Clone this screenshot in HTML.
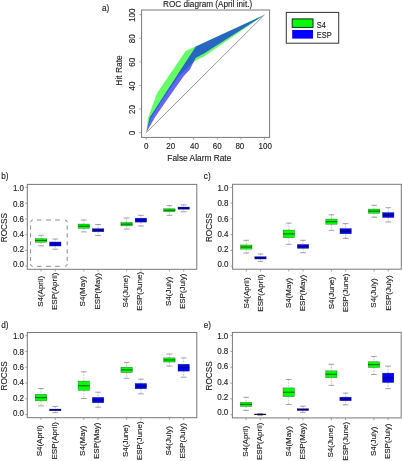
<!DOCTYPE html>
<html><head><meta charset="utf-8">
<style>
html,body{margin:0;padding:0;background:#fff;}
body{width:402px;height:461px;overflow:hidden;}
svg{display:block;filter:blur(0.3px);}
text{font-family:"Liberation Sans", sans-serif;fill:#1c1c1c;stroke:#1c1c1c;stroke-width:0.12px;}
</style></head>
<body>
<svg width="402" height="461" viewBox="0 0 402 461">
<rect width="402" height="461" fill="#fff"/>
<rect x="141.6" y="10.0" width="128.00" height="127.40" fill="none" stroke="#787878" stroke-width="1"/>
<polygon points="146.30,132.60 147.90,118.20 156.80,93.50 185.70,51.10 264.60,14.70 264.60,14.70 204.00,56.60 197.00,59.80 191.80,63.50 185.60,70.00 178.90,76.00 170.60,88.00 162.50,100.00 151.30,117.20 146.30,132.60" fill="#00ff00" fill-opacity="0.6"/>
<polygon points="146.30,132.60 149.80,117.20 195.80,46.60 264.60,14.70 264.60,14.70 204.00,53.50 195.50,58.00 190.00,69.50 183.80,76.00 175.30,88.00 166.20,101.00 155.00,117.20 146.30,132.60" fill="#0000ff" fill-opacity="0.6"/>
<line x1="146.30" y1="132.60" x2="264.60" y2="14.70" stroke="#9a9a9a" stroke-width="1.0"/>
<line x1="146.30" y1="137.4" x2="146.30" y2="139.6" stroke="#8a8a8a" stroke-width="0.8"/>
<text transform="translate(146.10,149.00) scale(1,1.2)" font-size="8.0" text-anchor="middle">0</text>
<line x1="139.4" y1="132.60" x2="141.6" y2="132.60" stroke="#8a8a8a" stroke-width="0.8"/>
<text transform="translate(135.00,133.10) rotate(-90) scale(1,1.1)" font-size="8.0" text-anchor="middle">0</text>
<line x1="169.96" y1="137.4" x2="169.96" y2="139.6" stroke="#8a8a8a" stroke-width="0.8"/>
<text transform="translate(170.76,149.00) scale(1,1.2)" font-size="8.0" text-anchor="middle">20</text>
<line x1="139.4" y1="109.02" x2="141.6" y2="109.02" stroke="#8a8a8a" stroke-width="0.8"/>
<text transform="translate(135.00,109.52) rotate(-90) scale(1,1.1)" font-size="8.0" text-anchor="middle">20</text>
<line x1="193.62" y1="137.4" x2="193.62" y2="139.6" stroke="#8a8a8a" stroke-width="0.8"/>
<text transform="translate(194.42,149.00) scale(1,1.2)" font-size="8.0" text-anchor="middle">40</text>
<line x1="139.4" y1="85.44" x2="141.6" y2="85.44" stroke="#8a8a8a" stroke-width="0.8"/>
<text transform="translate(135.00,85.94) rotate(-90) scale(1,1.1)" font-size="8.0" text-anchor="middle">40</text>
<line x1="217.28" y1="137.4" x2="217.28" y2="139.6" stroke="#8a8a8a" stroke-width="0.8"/>
<text transform="translate(217.28,149.00) scale(1,1.2)" font-size="8.0" text-anchor="middle">60</text>
<line x1="139.4" y1="61.86" x2="141.6" y2="61.86" stroke="#8a8a8a" stroke-width="0.8"/>
<text transform="translate(135.00,62.36) rotate(-90) scale(1,1.1)" font-size="8.0" text-anchor="middle">60</text>
<line x1="240.94" y1="137.4" x2="240.94" y2="139.6" stroke="#8a8a8a" stroke-width="0.8"/>
<text transform="translate(239.84,149.00) scale(1,1.2)" font-size="8.0" text-anchor="middle">80</text>
<line x1="139.4" y1="38.28" x2="141.6" y2="38.28" stroke="#8a8a8a" stroke-width="0.8"/>
<text transform="translate(135.00,38.78) rotate(-90) scale(1,1.1)" font-size="8.0" text-anchor="middle">80</text>
<line x1="264.60" y1="137.4" x2="264.60" y2="139.6" stroke="#8a8a8a" stroke-width="0.8"/>
<text transform="translate(265.20,149.00) scale(1,1.2)" font-size="8.0" text-anchor="middle">100</text>
<line x1="139.4" y1="14.70" x2="141.6" y2="14.70" stroke="#8a8a8a" stroke-width="0.8"/>
<text transform="translate(135.00,15.20) rotate(-90) scale(1,1.1)" font-size="8.0" text-anchor="middle">100</text>
<text transform="translate(199.30,160.60) scale(1,1.12)" font-size="8.35" text-anchor="middle">False Alarm Rate</text>
<text transform="translate(122.30,70.50) rotate(-90)" font-size="8.4" text-anchor="middle">Hit Rate</text>
<text transform="translate(207.60,7.30) scale(1,1.12)" font-size="8.2" text-anchor="middle">ROC diagram (April init.)</text>
<text transform="translate(102.00,10.50) scale(1,1.12)" font-size="8.2">a)</text>
<rect x="286.3" y="12.4" width="52.4" height="30.8" fill="none" stroke="#333" stroke-width="1"/>
<rect x="292.2" y="18.9" width="20.8" height="8.5" fill="#00ff00" stroke="#222" stroke-width="1"/>
<rect x="292.2" y="30.0" width="20.8" height="8.6" fill="#0000ff"/>
<text transform="translate(316.80,27.50) scale(1,1.12)" font-size="7.4">S4</text>
<text transform="translate(316.80,37.80) scale(1,1.12)" font-size="7.4">ESP</text>
<rect x="27.3" y="184.4" width="169.50" height="84.90" fill="none" stroke="#787878" stroke-width="1"/>
<line x1="25.30" y1="266.16" x2="27.3" y2="266.16" stroke="#8a8a8a" stroke-width="0.8"/>
<text transform="translate(24.00,267.46) scale(1,1.12)" font-size="8.0" text-anchor="end">0.0</text>
<line x1="25.30" y1="250.43" x2="27.3" y2="250.43" stroke="#8a8a8a" stroke-width="0.8"/>
<text transform="translate(24.00,252.23) scale(1,1.12)" font-size="8.0" text-anchor="end">0.2</text>
<line x1="25.30" y1="234.71" x2="27.3" y2="234.71" stroke="#8a8a8a" stroke-width="0.8"/>
<text transform="translate(24.00,237.01) scale(1,1.12)" font-size="8.0" text-anchor="end">0.4</text>
<line x1="25.30" y1="218.99" x2="27.3" y2="218.99" stroke="#8a8a8a" stroke-width="0.8"/>
<text transform="translate(24.00,221.79) scale(1,1.12)" font-size="8.0" text-anchor="end">0.6</text>
<line x1="25.30" y1="203.27" x2="27.3" y2="203.27" stroke="#8a8a8a" stroke-width="0.8"/>
<text transform="translate(24.00,206.57) scale(1,1.12)" font-size="8.0" text-anchor="end">0.8</text>
<line x1="25.30" y1="187.54" x2="27.3" y2="187.54" stroke="#8a8a8a" stroke-width="0.8"/>
<text transform="translate(24.00,191.34) scale(1,1.12)" font-size="8.0" text-anchor="end">1.0</text>
<text transform="translate(6.50,227.65) rotate(-90)" font-size="8.2" text-anchor="middle">ROCSS</text>
<text transform="translate(1.20,179.20) scale(1,1.12)" font-size="8.2">b)</text>
<line x1="41.01" y1="269.3" x2="41.01" y2="271.50" stroke="#8a8a8a" stroke-width="0.8"/>
<text transform="translate(42.61,291.30) rotate(-90)" font-size="8.0" text-anchor="middle">S4(April)</text>
<line x1="41.01" y1="235.30" x2="41.01" y2="238.50" stroke="#999" stroke-width="0.6" stroke-dasharray="1.5,1.2"/>
<line x1="41.01" y1="242.40" x2="41.01" y2="245.80" stroke="#999" stroke-width="0.6" stroke-dasharray="1.5,1.2"/>
<line x1="38.16" y1="235.30" x2="43.87" y2="235.30" stroke="#666" stroke-width="0.6"/>
<line x1="38.16" y1="245.80" x2="43.87" y2="245.80" stroke="#666" stroke-width="0.6"/>
<rect x="35.29" y="238.65" width="11.44" height="3.60" fill="#00ff00" stroke="#000" stroke-opacity="0.5" stroke-width="0.5"/>
<line x1="35.29" y1="240.45" x2="46.73" y2="240.45" stroke="#000" stroke-opacity="0.55" stroke-width="1.2"/>
<line x1="55.28" y1="269.3" x2="55.28" y2="271.50" stroke="#8a8a8a" stroke-width="0.8"/>
<text transform="translate(56.88,291.30) rotate(-90)" font-size="8.0" text-anchor="middle">ESP(April)</text>
<line x1="55.28" y1="239.00" x2="55.28" y2="241.80" stroke="#999" stroke-width="0.6" stroke-dasharray="1.5,1.2"/>
<line x1="55.28" y1="246.20" x2="55.28" y2="249.20" stroke="#999" stroke-width="0.6" stroke-dasharray="1.5,1.2"/>
<line x1="52.43" y1="239.00" x2="58.13" y2="239.00" stroke="#666" stroke-width="0.6"/>
<line x1="52.43" y1="249.20" x2="58.13" y2="249.20" stroke="#666" stroke-width="0.6"/>
<rect x="49.56" y="241.95" width="11.44" height="4.10" fill="#0000ff" stroke="#000" stroke-opacity="0.5" stroke-width="0.5"/>
<line x1="49.56" y1="244.00" x2="61.00" y2="244.00" stroke="#000" stroke-opacity="0.55" stroke-width="1.2"/>
<line x1="83.81" y1="269.3" x2="83.81" y2="271.50" stroke="#8a8a8a" stroke-width="0.8"/>
<text transform="translate(85.41,291.30) rotate(-90)" font-size="8.0" text-anchor="middle">S4(May)</text>
<line x1="83.81" y1="220.00" x2="83.81" y2="223.90" stroke="#999" stroke-width="0.6" stroke-dasharray="1.5,1.2"/>
<line x1="83.81" y1="228.50" x2="83.81" y2="231.90" stroke="#999" stroke-width="0.6" stroke-dasharray="1.5,1.2"/>
<line x1="80.96" y1="220.00" x2="86.67" y2="220.00" stroke="#666" stroke-width="0.6"/>
<line x1="80.96" y1="231.90" x2="86.67" y2="231.90" stroke="#666" stroke-width="0.6"/>
<rect x="78.09" y="224.05" width="11.44" height="4.30" fill="#00ff00" stroke="#000" stroke-opacity="0.5" stroke-width="0.5"/>
<line x1="78.09" y1="226.20" x2="89.54" y2="226.20" stroke="#000" stroke-opacity="0.55" stroke-width="1.2"/>
<line x1="98.08" y1="269.3" x2="98.08" y2="271.50" stroke="#8a8a8a" stroke-width="0.8"/>
<text transform="translate(99.68,291.30) rotate(-90)" font-size="8.0" text-anchor="middle">ESP(May)</text>
<line x1="98.08" y1="224.50" x2="98.08" y2="228.50" stroke="#999" stroke-width="0.6" stroke-dasharray="1.5,1.2"/>
<line x1="98.08" y1="231.90" x2="98.08" y2="235.50" stroke="#999" stroke-width="0.6" stroke-dasharray="1.5,1.2"/>
<line x1="95.23" y1="224.50" x2="100.94" y2="224.50" stroke="#666" stroke-width="0.6"/>
<line x1="95.23" y1="235.50" x2="100.94" y2="235.50" stroke="#666" stroke-width="0.6"/>
<rect x="92.36" y="228.65" width="11.44" height="3.10" fill="#0000ff" stroke="#000" stroke-opacity="0.5" stroke-width="0.5"/>
<line x1="92.36" y1="230.20" x2="103.80" y2="230.20" stroke="#000" stroke-opacity="0.55" stroke-width="1.2"/>
<line x1="126.62" y1="269.3" x2="126.62" y2="271.50" stroke="#8a8a8a" stroke-width="0.8"/>
<text transform="translate(128.22,291.30) rotate(-90)" font-size="8.0" text-anchor="middle">S4(June)</text>
<line x1="126.62" y1="218.00" x2="126.62" y2="222.30" stroke="#999" stroke-width="0.6" stroke-dasharray="1.5,1.2"/>
<line x1="126.62" y1="226.00" x2="126.62" y2="229.00" stroke="#999" stroke-width="0.6" stroke-dasharray="1.5,1.2"/>
<line x1="123.76" y1="218.00" x2="129.47" y2="218.00" stroke="#666" stroke-width="0.6"/>
<line x1="123.76" y1="229.00" x2="129.47" y2="229.00" stroke="#666" stroke-width="0.6"/>
<rect x="120.90" y="222.45" width="11.44" height="3.40" fill="#00ff00" stroke="#000" stroke-opacity="0.5" stroke-width="0.5"/>
<line x1="120.90" y1="224.15" x2="132.34" y2="224.15" stroke="#000" stroke-opacity="0.55" stroke-width="1.2"/>
<line x1="140.89" y1="269.3" x2="140.89" y2="271.50" stroke="#8a8a8a" stroke-width="0.8"/>
<text transform="translate(142.49,291.30) rotate(-90)" font-size="8.0" text-anchor="middle">ESP(June)</text>
<line x1="140.89" y1="215.30" x2="140.89" y2="218.00" stroke="#999" stroke-width="0.6" stroke-dasharray="1.5,1.2"/>
<line x1="140.89" y1="222.30" x2="140.89" y2="226.00" stroke="#999" stroke-width="0.6" stroke-dasharray="1.5,1.2"/>
<line x1="138.03" y1="215.30" x2="143.74" y2="215.30" stroke="#666" stroke-width="0.6"/>
<line x1="138.03" y1="226.00" x2="143.74" y2="226.00" stroke="#666" stroke-width="0.6"/>
<rect x="135.16" y="218.15" width="11.44" height="4.00" fill="#0000ff" stroke="#000" stroke-opacity="0.5" stroke-width="0.5"/>
<line x1="135.16" y1="220.15" x2="146.61" y2="220.15" stroke="#000" stroke-opacity="0.55" stroke-width="1.2"/>
<line x1="169.42" y1="269.3" x2="169.42" y2="271.50" stroke="#8a8a8a" stroke-width="0.8"/>
<text transform="translate(171.02,291.30) rotate(-90)" font-size="8.0" text-anchor="middle">S4(July)</text>
<line x1="169.42" y1="205.60" x2="169.42" y2="208.60" stroke="#999" stroke-width="0.6" stroke-dasharray="1.5,1.2"/>
<line x1="169.42" y1="211.80" x2="169.42" y2="215.30" stroke="#999" stroke-width="0.6" stroke-dasharray="1.5,1.2"/>
<line x1="166.57" y1="205.60" x2="172.27" y2="205.60" stroke="#666" stroke-width="0.6"/>
<line x1="166.57" y1="215.30" x2="172.27" y2="215.30" stroke="#666" stroke-width="0.6"/>
<rect x="163.70" y="208.75" width="11.44" height="2.90" fill="#00ff00" stroke="#000" stroke-opacity="0.5" stroke-width="0.5"/>
<line x1="163.70" y1="210.20" x2="175.14" y2="210.20" stroke="#000" stroke-opacity="0.55" stroke-width="1.2"/>
<line x1="183.69" y1="269.3" x2="183.69" y2="271.50" stroke="#8a8a8a" stroke-width="0.8"/>
<text transform="translate(185.29,291.30) rotate(-90)" font-size="8.0" text-anchor="middle">ESP(July)</text>
<line x1="183.69" y1="204.90" x2="183.69" y2="206.90" stroke="#999" stroke-width="0.6" stroke-dasharray="1.5,1.2"/>
<line x1="183.69" y1="209.40" x2="183.69" y2="211.80" stroke="#999" stroke-width="0.6" stroke-dasharray="1.5,1.2"/>
<line x1="180.83" y1="204.90" x2="186.54" y2="204.90" stroke="#666" stroke-width="0.6"/>
<line x1="180.83" y1="211.80" x2="186.54" y2="211.80" stroke="#666" stroke-width="0.6"/>
<rect x="177.97" y="207.05" width="11.44" height="2.20" fill="#0000ff" stroke="#000" stroke-opacity="0.5" stroke-width="0.5"/>
<line x1="177.97" y1="208.15" x2="189.41" y2="208.15" stroke="#000" stroke-opacity="0.55" stroke-width="1.2"/>
<path d="M36.9,220.0H41.4M36.9,266.3H41.4M46.0,220.0H51.0M46.0,266.3H51.0M55.2,220.0H59.8M55.2,266.3H59.8M30.6,225.5V229.7M67.2,225.5V229.7M30.6,233.3V237.5M67.2,233.3V237.5M30.6,241.3V245.3M67.2,241.3V245.3M30.6,249.3V253.5M67.2,249.3V253.5M30.6,256.8V261.0M67.2,256.8V261.0M30.6,222.2Q30.6,220.0 32.800000000000004,220.0M65.0,220.0Q67.2,220.0 67.2,222.2M30.6,264.1Q30.6,266.3 32.800000000000004,266.3M65.0,266.3Q67.2,266.3 67.2,264.1" fill="none" stroke="#8a8a8a" stroke-width="1"/>
<rect x="232.6" y="184.3" width="168.70" height="84.90" fill="none" stroke="#787878" stroke-width="1"/>
<line x1="230.60" y1="266.06" x2="232.6" y2="266.06" stroke="#8a8a8a" stroke-width="0.8"/>
<text transform="translate(228.50,267.36) scale(1,1.12)" font-size="8.0" text-anchor="end">0.0</text>
<line x1="230.60" y1="250.33" x2="232.6" y2="250.33" stroke="#8a8a8a" stroke-width="0.8"/>
<text transform="translate(228.50,252.13) scale(1,1.12)" font-size="8.0" text-anchor="end">0.2</text>
<line x1="230.60" y1="234.61" x2="232.6" y2="234.61" stroke="#8a8a8a" stroke-width="0.8"/>
<text transform="translate(228.50,236.91) scale(1,1.12)" font-size="8.0" text-anchor="end">0.4</text>
<line x1="230.60" y1="218.89" x2="232.6" y2="218.89" stroke="#8a8a8a" stroke-width="0.8"/>
<text transform="translate(228.50,221.69) scale(1,1.12)" font-size="8.0" text-anchor="end">0.6</text>
<line x1="230.60" y1="203.17" x2="232.6" y2="203.17" stroke="#8a8a8a" stroke-width="0.8"/>
<text transform="translate(228.50,206.47) scale(1,1.12)" font-size="8.0" text-anchor="end">0.8</text>
<line x1="230.60" y1="187.44" x2="232.6" y2="187.44" stroke="#8a8a8a" stroke-width="0.8"/>
<text transform="translate(228.50,191.24) scale(1,1.12)" font-size="8.0" text-anchor="end">1.0</text>
<text transform="translate(211.80,227.55) rotate(-90)" font-size="8.2" text-anchor="middle">ROCSS</text>
<text transform="translate(203.80,179.40) scale(1,1.12)" font-size="8.2">c)</text>
<line x1="246.25" y1="269.2" x2="246.25" y2="271.40" stroke="#8a8a8a" stroke-width="0.8"/>
<text transform="translate(248.65,293.00) rotate(-90)" font-size="8.0" text-anchor="middle">S4(April)</text>
<line x1="246.25" y1="240.30" x2="246.25" y2="244.80" stroke="#999" stroke-width="0.6" stroke-dasharray="1.5,1.2"/>
<line x1="246.25" y1="249.30" x2="246.25" y2="253.00" stroke="#999" stroke-width="0.6" stroke-dasharray="1.5,1.2"/>
<line x1="243.41" y1="240.30" x2="249.09" y2="240.30" stroke="#666" stroke-width="0.6"/>
<line x1="243.41" y1="253.00" x2="249.09" y2="253.00" stroke="#666" stroke-width="0.6"/>
<rect x="240.56" y="244.95" width="11.39" height="4.20" fill="#00ff00" stroke="#000" stroke-opacity="0.5" stroke-width="0.5"/>
<line x1="240.56" y1="247.05" x2="251.94" y2="247.05" stroke="#000" stroke-opacity="0.55" stroke-width="1.2"/>
<line x1="260.45" y1="269.2" x2="260.45" y2="271.40" stroke="#8a8a8a" stroke-width="0.8"/>
<text transform="translate(262.85,293.00) rotate(-90)" font-size="8.0" text-anchor="middle">ESP(April)</text>
<line x1="260.45" y1="254.00" x2="260.45" y2="256.50" stroke="#999" stroke-width="0.6" stroke-dasharray="1.5,1.2"/>
<line x1="260.45" y1="259.20" x2="260.45" y2="261.40" stroke="#999" stroke-width="0.6" stroke-dasharray="1.5,1.2"/>
<line x1="257.61" y1="254.00" x2="263.29" y2="254.00" stroke="#666" stroke-width="0.6"/>
<line x1="257.61" y1="261.40" x2="263.29" y2="261.40" stroke="#666" stroke-width="0.6"/>
<rect x="254.76" y="256.65" width="11.39" height="2.40" fill="#0000ff" stroke="#000" stroke-opacity="0.5" stroke-width="0.5"/>
<line x1="254.76" y1="257.85" x2="266.14" y2="257.85" stroke="#000" stroke-opacity="0.55" stroke-width="1.2"/>
<line x1="288.85" y1="269.2" x2="288.85" y2="271.40" stroke="#8a8a8a" stroke-width="0.8"/>
<text transform="translate(291.25,293.00) rotate(-90)" font-size="8.0" text-anchor="middle">S4(May)</text>
<line x1="288.85" y1="223.10" x2="288.85" y2="229.90" stroke="#999" stroke-width="0.6" stroke-dasharray="1.5,1.2"/>
<line x1="288.85" y1="237.80" x2="288.85" y2="244.30" stroke="#999" stroke-width="0.6" stroke-dasharray="1.5,1.2"/>
<line x1="286.01" y1="223.10" x2="291.69" y2="223.10" stroke="#666" stroke-width="0.6"/>
<line x1="286.01" y1="244.30" x2="291.69" y2="244.30" stroke="#666" stroke-width="0.6"/>
<rect x="283.16" y="230.05" width="11.39" height="7.60" fill="#00ff00" stroke="#000" stroke-opacity="0.5" stroke-width="0.5"/>
<line x1="283.16" y1="233.85" x2="294.54" y2="233.85" stroke="#000" stroke-opacity="0.55" stroke-width="1.2"/>
<line x1="303.05" y1="269.2" x2="303.05" y2="271.40" stroke="#8a8a8a" stroke-width="0.8"/>
<text transform="translate(305.45,293.00) rotate(-90)" font-size="8.0" text-anchor="middle">ESP(May)</text>
<line x1="303.05" y1="240.30" x2="303.05" y2="244.30" stroke="#999" stroke-width="0.6" stroke-dasharray="1.5,1.2"/>
<line x1="303.05" y1="248.50" x2="303.05" y2="252.70" stroke="#999" stroke-width="0.6" stroke-dasharray="1.5,1.2"/>
<line x1="300.21" y1="240.30" x2="305.89" y2="240.30" stroke="#666" stroke-width="0.6"/>
<line x1="300.21" y1="252.70" x2="305.89" y2="252.70" stroke="#666" stroke-width="0.6"/>
<rect x="297.36" y="244.45" width="11.39" height="3.90" fill="#0000ff" stroke="#000" stroke-opacity="0.5" stroke-width="0.5"/>
<line x1="297.36" y1="246.40" x2="308.74" y2="246.40" stroke="#000" stroke-opacity="0.55" stroke-width="1.2"/>
<line x1="331.45" y1="269.2" x2="331.45" y2="271.40" stroke="#8a8a8a" stroke-width="0.8"/>
<text transform="translate(333.85,293.00) rotate(-90)" font-size="8.0" text-anchor="middle">S4(June)</text>
<line x1="331.45" y1="214.80" x2="331.45" y2="218.90" stroke="#999" stroke-width="0.6" stroke-dasharray="1.5,1.2"/>
<line x1="331.45" y1="224.40" x2="331.45" y2="230.30" stroke="#999" stroke-width="0.6" stroke-dasharray="1.5,1.2"/>
<line x1="328.61" y1="214.80" x2="334.29" y2="214.80" stroke="#666" stroke-width="0.6"/>
<line x1="328.61" y1="230.30" x2="334.29" y2="230.30" stroke="#666" stroke-width="0.6"/>
<rect x="325.76" y="219.05" width="11.39" height="5.20" fill="#00ff00" stroke="#000" stroke-opacity="0.5" stroke-width="0.5"/>
<line x1="325.76" y1="221.65" x2="337.14" y2="221.65" stroke="#000" stroke-opacity="0.55" stroke-width="1.2"/>
<line x1="345.65" y1="269.2" x2="345.65" y2="271.40" stroke="#8a8a8a" stroke-width="0.8"/>
<text transform="translate(348.05,293.00) rotate(-90)" font-size="8.0" text-anchor="middle">ESP(June)</text>
<line x1="345.65" y1="223.60" x2="345.65" y2="228.40" stroke="#999" stroke-width="0.6" stroke-dasharray="1.5,1.2"/>
<line x1="345.65" y1="233.90" x2="345.65" y2="238.40" stroke="#999" stroke-width="0.6" stroke-dasharray="1.5,1.2"/>
<line x1="342.81" y1="223.60" x2="348.49" y2="223.60" stroke="#666" stroke-width="0.6"/>
<line x1="342.81" y1="238.40" x2="348.49" y2="238.40" stroke="#666" stroke-width="0.6"/>
<rect x="339.96" y="228.55" width="11.39" height="5.20" fill="#0000ff" stroke="#000" stroke-opacity="0.5" stroke-width="0.5"/>
<line x1="339.96" y1="231.15" x2="351.34" y2="231.15" stroke="#000" stroke-opacity="0.55" stroke-width="1.2"/>
<line x1="374.05" y1="269.2" x2="374.05" y2="271.40" stroke="#8a8a8a" stroke-width="0.8"/>
<text transform="translate(376.45,293.00) rotate(-90)" font-size="8.0" text-anchor="middle">S4(July)</text>
<line x1="374.05" y1="205.30" x2="374.05" y2="208.90" stroke="#999" stroke-width="0.6" stroke-dasharray="1.5,1.2"/>
<line x1="374.05" y1="213.40" x2="374.05" y2="217.20" stroke="#999" stroke-width="0.6" stroke-dasharray="1.5,1.2"/>
<line x1="371.21" y1="205.30" x2="376.89" y2="205.30" stroke="#666" stroke-width="0.6"/>
<line x1="371.21" y1="217.20" x2="376.89" y2="217.20" stroke="#666" stroke-width="0.6"/>
<rect x="368.36" y="209.05" width="11.39" height="4.20" fill="#00ff00" stroke="#000" stroke-opacity="0.5" stroke-width="0.5"/>
<line x1="368.36" y1="211.15" x2="379.74" y2="211.15" stroke="#000" stroke-opacity="0.55" stroke-width="1.2"/>
<line x1="388.25" y1="269.2" x2="388.25" y2="271.40" stroke="#8a8a8a" stroke-width="0.8"/>
<text transform="translate(390.65,293.00) rotate(-90)" font-size="8.0" text-anchor="middle">ESP(July)</text>
<line x1="388.25" y1="207.70" x2="388.25" y2="212.40" stroke="#999" stroke-width="0.6" stroke-dasharray="1.5,1.2"/>
<line x1="388.25" y1="217.70" x2="388.25" y2="222.00" stroke="#999" stroke-width="0.6" stroke-dasharray="1.5,1.2"/>
<line x1="385.41" y1="207.70" x2="391.09" y2="207.70" stroke="#666" stroke-width="0.6"/>
<line x1="385.41" y1="222.00" x2="391.09" y2="222.00" stroke="#666" stroke-width="0.6"/>
<rect x="382.56" y="212.55" width="11.39" height="5.00" fill="#0000ff" stroke="#000" stroke-opacity="0.5" stroke-width="0.5"/>
<line x1="382.56" y1="215.05" x2="393.94" y2="215.05" stroke="#000" stroke-opacity="0.55" stroke-width="1.2"/>
<rect x="27.3" y="332.5" width="169.50" height="85.20" fill="none" stroke="#787878" stroke-width="1"/>
<line x1="25.30" y1="414.54" x2="27.3" y2="414.54" stroke="#8a8a8a" stroke-width="0.8"/>
<text transform="translate(24.00,415.84) scale(1,1.12)" font-size="8.0" text-anchor="end">0.0</text>
<line x1="25.30" y1="398.77" x2="27.3" y2="398.77" stroke="#8a8a8a" stroke-width="0.8"/>
<text transform="translate(24.00,400.57) scale(1,1.12)" font-size="8.0" text-anchor="end">0.2</text>
<line x1="25.30" y1="382.99" x2="27.3" y2="382.99" stroke="#8a8a8a" stroke-width="0.8"/>
<text transform="translate(24.00,385.29) scale(1,1.12)" font-size="8.0" text-anchor="end">0.4</text>
<line x1="25.30" y1="367.21" x2="27.3" y2="367.21" stroke="#8a8a8a" stroke-width="0.8"/>
<text transform="translate(24.00,370.01) scale(1,1.12)" font-size="8.0" text-anchor="end">0.6</text>
<line x1="25.30" y1="351.43" x2="27.3" y2="351.43" stroke="#8a8a8a" stroke-width="0.8"/>
<text transform="translate(24.00,354.73) scale(1,1.12)" font-size="8.0" text-anchor="end">0.8</text>
<line x1="25.30" y1="335.66" x2="27.3" y2="335.66" stroke="#8a8a8a" stroke-width="0.8"/>
<text transform="translate(24.00,339.46) scale(1,1.12)" font-size="8.0" text-anchor="end">1.0</text>
<text transform="translate(6.50,375.90) rotate(-90)" font-size="8.2" text-anchor="middle">ROCSS</text>
<text transform="translate(1.20,327.60) scale(1,1.12)" font-size="8.2">d)</text>
<line x1="41.01" y1="417.7" x2="41.01" y2="419.90" stroke="#8a8a8a" stroke-width="0.8"/>
<text transform="translate(42.41,440.80) rotate(-90)" font-size="8.0" text-anchor="middle">S4(April)</text>
<line x1="41.01" y1="388.50" x2="41.01" y2="394.20" stroke="#999" stroke-width="0.6" stroke-dasharray="1.5,1.2"/>
<line x1="41.01" y1="401.00" x2="41.01" y2="405.90" stroke="#999" stroke-width="0.6" stroke-dasharray="1.5,1.2"/>
<line x1="38.16" y1="388.50" x2="43.87" y2="388.50" stroke="#666" stroke-width="0.6"/>
<line x1="38.16" y1="405.90" x2="43.87" y2="405.90" stroke="#666" stroke-width="0.6"/>
<rect x="35.29" y="394.35" width="11.44" height="6.50" fill="#00ff00" stroke="#000" stroke-opacity="0.5" stroke-width="0.5"/>
<line x1="35.29" y1="397.60" x2="46.73" y2="397.60" stroke="#000" stroke-opacity="0.55" stroke-width="1.2"/>
<line x1="55.28" y1="417.7" x2="55.28" y2="419.90" stroke="#8a8a8a" stroke-width="0.8"/>
<text transform="translate(56.68,440.80) rotate(-90)" font-size="8.0" text-anchor="middle">ESP(April)</text>
<line x1="55.28" y1="406.40" x2="55.28" y2="408.90" stroke="#999" stroke-width="0.6" stroke-dasharray="1.5,1.2"/>
<line x1="55.28" y1="410.90" x2="55.28" y2="412.60" stroke="#999" stroke-width="0.6" stroke-dasharray="1.5,1.2"/>
<line x1="52.43" y1="406.40" x2="58.13" y2="406.40" stroke="#666" stroke-width="0.6"/>
<line x1="52.43" y1="412.60" x2="58.13" y2="412.60" stroke="#666" stroke-width="0.6"/>
<rect x="49.56" y="409.05" width="11.44" height="1.70" fill="#0000ff" stroke="#000" stroke-opacity="0.5" stroke-width="0.5"/>
<line x1="49.56" y1="409.90" x2="61.00" y2="409.90" stroke="#000" stroke-opacity="0.55" stroke-width="1.2"/>
<line x1="83.81" y1="417.7" x2="83.81" y2="419.90" stroke="#8a8a8a" stroke-width="0.8"/>
<text transform="translate(85.21,440.80) rotate(-90)" font-size="8.0" text-anchor="middle">S4(May)</text>
<line x1="83.81" y1="371.80" x2="83.81" y2="381.00" stroke="#999" stroke-width="0.6" stroke-dasharray="1.5,1.2"/>
<line x1="83.81" y1="390.50" x2="83.81" y2="398.50" stroke="#999" stroke-width="0.6" stroke-dasharray="1.5,1.2"/>
<line x1="80.96" y1="371.80" x2="86.67" y2="371.80" stroke="#666" stroke-width="0.6"/>
<line x1="80.96" y1="398.50" x2="86.67" y2="398.50" stroke="#666" stroke-width="0.6"/>
<rect x="78.09" y="381.15" width="11.44" height="9.20" fill="#00ff00" stroke="#000" stroke-opacity="0.5" stroke-width="0.5"/>
<line x1="78.09" y1="385.75" x2="89.54" y2="385.75" stroke="#000" stroke-opacity="0.55" stroke-width="1.2"/>
<line x1="98.08" y1="417.7" x2="98.08" y2="419.90" stroke="#8a8a8a" stroke-width="0.8"/>
<text transform="translate(99.48,440.80) rotate(-90)" font-size="8.0" text-anchor="middle">ESP(May)</text>
<line x1="98.08" y1="392.20" x2="98.08" y2="397.20" stroke="#999" stroke-width="0.6" stroke-dasharray="1.5,1.2"/>
<line x1="98.08" y1="402.90" x2="98.08" y2="407.20" stroke="#999" stroke-width="0.6" stroke-dasharray="1.5,1.2"/>
<line x1="95.23" y1="392.20" x2="100.94" y2="392.20" stroke="#666" stroke-width="0.6"/>
<line x1="95.23" y1="407.20" x2="100.94" y2="407.20" stroke="#666" stroke-width="0.6"/>
<rect x="92.36" y="397.35" width="11.44" height="5.40" fill="#0000ff" stroke="#000" stroke-opacity="0.5" stroke-width="0.5"/>
<line x1="92.36" y1="400.05" x2="103.80" y2="400.05" stroke="#000" stroke-opacity="0.55" stroke-width="1.2"/>
<line x1="126.62" y1="417.7" x2="126.62" y2="419.90" stroke="#8a8a8a" stroke-width="0.8"/>
<text transform="translate(128.02,440.80) rotate(-90)" font-size="8.0" text-anchor="middle">S4(June)</text>
<line x1="126.62" y1="362.40" x2="126.62" y2="367.00" stroke="#999" stroke-width="0.6" stroke-dasharray="1.5,1.2"/>
<line x1="126.62" y1="372.70" x2="126.62" y2="378.30" stroke="#999" stroke-width="0.6" stroke-dasharray="1.5,1.2"/>
<line x1="123.76" y1="362.40" x2="129.47" y2="362.40" stroke="#666" stroke-width="0.6"/>
<line x1="123.76" y1="378.30" x2="129.47" y2="378.30" stroke="#666" stroke-width="0.6"/>
<rect x="120.90" y="367.15" width="11.44" height="5.40" fill="#00ff00" stroke="#000" stroke-opacity="0.5" stroke-width="0.5"/>
<line x1="120.90" y1="369.85" x2="132.34" y2="369.85" stroke="#000" stroke-opacity="0.55" stroke-width="1.2"/>
<line x1="140.89" y1="417.7" x2="140.89" y2="419.90" stroke="#8a8a8a" stroke-width="0.8"/>
<text transform="translate(142.29,440.80) rotate(-90)" font-size="8.0" text-anchor="middle">ESP(June)</text>
<line x1="140.89" y1="379.20" x2="140.89" y2="383.30" stroke="#999" stroke-width="0.6" stroke-dasharray="1.5,1.2"/>
<line x1="140.89" y1="388.90" x2="140.89" y2="393.90" stroke="#999" stroke-width="0.6" stroke-dasharray="1.5,1.2"/>
<line x1="138.03" y1="379.20" x2="143.74" y2="379.20" stroke="#666" stroke-width="0.6"/>
<line x1="138.03" y1="393.90" x2="143.74" y2="393.90" stroke="#666" stroke-width="0.6"/>
<rect x="135.16" y="383.45" width="11.44" height="5.30" fill="#0000ff" stroke="#000" stroke-opacity="0.5" stroke-width="0.5"/>
<line x1="135.16" y1="386.10" x2="146.61" y2="386.10" stroke="#000" stroke-opacity="0.55" stroke-width="1.2"/>
<line x1="169.42" y1="417.7" x2="169.42" y2="419.90" stroke="#8a8a8a" stroke-width="0.8"/>
<text transform="translate(170.82,440.80) rotate(-90)" font-size="8.0" text-anchor="middle">S4(July)</text>
<line x1="169.42" y1="354.00" x2="169.42" y2="357.70" stroke="#999" stroke-width="0.6" stroke-dasharray="1.5,1.2"/>
<line x1="169.42" y1="362.20" x2="169.42" y2="366.10" stroke="#999" stroke-width="0.6" stroke-dasharray="1.5,1.2"/>
<line x1="166.57" y1="354.00" x2="172.27" y2="354.00" stroke="#666" stroke-width="0.6"/>
<line x1="166.57" y1="366.10" x2="172.27" y2="366.10" stroke="#666" stroke-width="0.6"/>
<rect x="163.70" y="357.85" width="11.44" height="4.20" fill="#00ff00" stroke="#000" stroke-opacity="0.5" stroke-width="0.5"/>
<line x1="163.70" y1="359.95" x2="175.14" y2="359.95" stroke="#000" stroke-opacity="0.55" stroke-width="1.2"/>
<line x1="183.69" y1="417.7" x2="183.69" y2="419.90" stroke="#8a8a8a" stroke-width="0.8"/>
<text transform="translate(185.09,440.80) rotate(-90)" font-size="8.0" text-anchor="middle">ESP(July)</text>
<line x1="183.69" y1="357.90" x2="183.69" y2="364.10" stroke="#999" stroke-width="0.6" stroke-dasharray="1.5,1.2"/>
<line x1="183.69" y1="371.30" x2="183.69" y2="377.20" stroke="#999" stroke-width="0.6" stroke-dasharray="1.5,1.2"/>
<line x1="180.83" y1="357.90" x2="186.54" y2="357.90" stroke="#666" stroke-width="0.6"/>
<line x1="180.83" y1="377.20" x2="186.54" y2="377.20" stroke="#666" stroke-width="0.6"/>
<rect x="177.97" y="364.25" width="11.44" height="6.90" fill="#0000ff" stroke="#000" stroke-opacity="0.5" stroke-width="0.5"/>
<line x1="177.97" y1="367.70" x2="189.41" y2="367.70" stroke="#000" stroke-opacity="0.55" stroke-width="1.2"/>
<rect x="232.4" y="332.4" width="168.80" height="85.50" fill="none" stroke="#787878" stroke-width="1"/>
<line x1="230.40" y1="414.73" x2="232.4" y2="414.73" stroke="#8a8a8a" stroke-width="0.8"/>
<text transform="translate(228.30,415.23) scale(1,1.12)" font-size="8.0" text-anchor="end">0.0</text>
<line x1="230.40" y1="398.90" x2="232.4" y2="398.90" stroke="#8a8a8a" stroke-width="0.8"/>
<text transform="translate(228.30,399.92) scale(1,1.12)" font-size="8.0" text-anchor="end">0.2</text>
<line x1="230.40" y1="383.07" x2="232.4" y2="383.07" stroke="#8a8a8a" stroke-width="0.8"/>
<text transform="translate(228.30,384.61) scale(1,1.12)" font-size="8.0" text-anchor="end">0.4</text>
<line x1="230.40" y1="367.23" x2="232.4" y2="367.23" stroke="#8a8a8a" stroke-width="0.8"/>
<text transform="translate(228.30,369.29) scale(1,1.12)" font-size="8.0" text-anchor="end">0.6</text>
<line x1="230.40" y1="351.40" x2="232.4" y2="351.40" stroke="#8a8a8a" stroke-width="0.8"/>
<text transform="translate(228.30,353.98) scale(1,1.12)" font-size="8.0" text-anchor="end">0.8</text>
<line x1="230.40" y1="335.57" x2="232.4" y2="335.57" stroke="#8a8a8a" stroke-width="0.8"/>
<text transform="translate(228.30,338.67) scale(1,1.12)" font-size="8.0" text-anchor="end">1.0</text>
<text transform="translate(211.60,375.95) rotate(-90)" font-size="8.2" text-anchor="middle">ROCSS</text>
<text transform="translate(203.80,327.90) scale(1,1.12)" font-size="8.2">e)</text>
<line x1="246.06" y1="417.9" x2="246.06" y2="420.10" stroke="#8a8a8a" stroke-width="0.8"/>
<text transform="translate(248.16,441.30) rotate(-90)" font-size="8.0" text-anchor="middle">S4(April)</text>
<line x1="246.06" y1="397.30" x2="246.06" y2="402.20" stroke="#999" stroke-width="0.6" stroke-dasharray="1.5,1.2"/>
<line x1="246.06" y1="406.60" x2="246.06" y2="410.40" stroke="#999" stroke-width="0.6" stroke-dasharray="1.5,1.2"/>
<line x1="243.21" y1="397.30" x2="248.90" y2="397.30" stroke="#666" stroke-width="0.6"/>
<line x1="243.21" y1="410.40" x2="248.90" y2="410.40" stroke="#666" stroke-width="0.6"/>
<rect x="240.36" y="402.35" width="11.39" height="4.10" fill="#00ff00" stroke="#000" stroke-opacity="0.5" stroke-width="0.5"/>
<line x1="240.36" y1="404.40" x2="251.75" y2="404.40" stroke="#000" stroke-opacity="0.55" stroke-width="1.2"/>
<line x1="260.26" y1="417.9" x2="260.26" y2="420.10" stroke="#8a8a8a" stroke-width="0.8"/>
<text transform="translate(262.36,441.30) rotate(-90)" font-size="8.0" text-anchor="middle">ESP(April)</text>
<line x1="260.26" y1="413.50" x2="260.26" y2="413.90" stroke="#999" stroke-width="0.6" stroke-dasharray="1.5,1.2"/>
<line x1="260.26" y1="414.90" x2="260.26" y2="415.50" stroke="#999" stroke-width="0.6" stroke-dasharray="1.5,1.2"/>
<line x1="257.42" y1="413.50" x2="263.11" y2="413.50" stroke="#666" stroke-width="0.6"/>
<line x1="257.42" y1="415.50" x2="263.11" y2="415.50" stroke="#666" stroke-width="0.6"/>
<rect x="254.57" y="414.05" width="11.39" height="0.70" fill="#0000ff" stroke="#000" stroke-opacity="0.5" stroke-width="0.5"/>
<line x1="254.57" y1="414.40" x2="265.96" y2="414.40" stroke="#000" stroke-opacity="0.55" stroke-width="1.2"/>
<line x1="288.68" y1="417.9" x2="288.68" y2="420.10" stroke="#8a8a8a" stroke-width="0.8"/>
<text transform="translate(290.78,441.30) rotate(-90)" font-size="8.0" text-anchor="middle">S4(May)</text>
<line x1="288.68" y1="379.50" x2="288.68" y2="387.70" stroke="#999" stroke-width="0.6" stroke-dasharray="1.5,1.2"/>
<line x1="288.68" y1="396.80" x2="288.68" y2="404.50" stroke="#999" stroke-width="0.6" stroke-dasharray="1.5,1.2"/>
<line x1="285.84" y1="379.50" x2="291.52" y2="379.50" stroke="#666" stroke-width="0.6"/>
<line x1="285.84" y1="404.50" x2="291.52" y2="404.50" stroke="#666" stroke-width="0.6"/>
<rect x="282.99" y="387.85" width="11.39" height="8.80" fill="#00ff00" stroke="#000" stroke-opacity="0.5" stroke-width="0.5"/>
<line x1="282.99" y1="392.25" x2="294.38" y2="392.25" stroke="#000" stroke-opacity="0.55" stroke-width="1.2"/>
<line x1="302.89" y1="417.9" x2="302.89" y2="420.10" stroke="#8a8a8a" stroke-width="0.8"/>
<text transform="translate(304.99,441.30) rotate(-90)" font-size="8.0" text-anchor="middle">ESP(May)</text>
<line x1="302.89" y1="406.20" x2="302.89" y2="408.50" stroke="#999" stroke-width="0.6" stroke-dasharray="1.5,1.2"/>
<line x1="302.89" y1="410.70" x2="302.89" y2="412.40" stroke="#999" stroke-width="0.6" stroke-dasharray="1.5,1.2"/>
<line x1="300.05" y1="406.20" x2="305.73" y2="406.20" stroke="#666" stroke-width="0.6"/>
<line x1="300.05" y1="412.40" x2="305.73" y2="412.40" stroke="#666" stroke-width="0.6"/>
<rect x="297.19" y="408.65" width="11.39" height="1.90" fill="#0000ff" stroke="#000" stroke-opacity="0.5" stroke-width="0.5"/>
<line x1="297.19" y1="409.60" x2="308.59" y2="409.60" stroke="#000" stroke-opacity="0.55" stroke-width="1.2"/>
<line x1="331.31" y1="417.9" x2="331.31" y2="420.10" stroke="#8a8a8a" stroke-width="0.8"/>
<text transform="translate(333.41,441.30) rotate(-90)" font-size="8.0" text-anchor="middle">S4(June)</text>
<line x1="331.31" y1="364.30" x2="331.31" y2="370.70" stroke="#999" stroke-width="0.6" stroke-dasharray="1.5,1.2"/>
<line x1="331.31" y1="377.80" x2="331.31" y2="385.40" stroke="#999" stroke-width="0.6" stroke-dasharray="1.5,1.2"/>
<line x1="328.47" y1="364.30" x2="334.15" y2="364.30" stroke="#666" stroke-width="0.6"/>
<line x1="328.47" y1="385.40" x2="334.15" y2="385.40" stroke="#666" stroke-width="0.6"/>
<rect x="325.61" y="370.85" width="11.39" height="6.80" fill="#00ff00" stroke="#000" stroke-opacity="0.5" stroke-width="0.5"/>
<line x1="325.61" y1="374.25" x2="337.01" y2="374.25" stroke="#000" stroke-opacity="0.55" stroke-width="1.2"/>
<line x1="345.52" y1="417.9" x2="345.52" y2="420.10" stroke="#8a8a8a" stroke-width="0.8"/>
<text transform="translate(347.62,441.30) rotate(-90)" font-size="8.0" text-anchor="middle">ESP(June)</text>
<line x1="345.52" y1="393.10" x2="345.52" y2="397.00" stroke="#999" stroke-width="0.6" stroke-dasharray="1.5,1.2"/>
<line x1="345.52" y1="400.90" x2="345.52" y2="404.80" stroke="#999" stroke-width="0.6" stroke-dasharray="1.5,1.2"/>
<line x1="342.68" y1="393.10" x2="348.36" y2="393.10" stroke="#666" stroke-width="0.6"/>
<line x1="342.68" y1="404.80" x2="348.36" y2="404.80" stroke="#666" stroke-width="0.6"/>
<rect x="339.82" y="397.15" width="11.39" height="3.60" fill="#0000ff" stroke="#000" stroke-opacity="0.5" stroke-width="0.5"/>
<line x1="339.82" y1="398.95" x2="351.21" y2="398.95" stroke="#000" stroke-opacity="0.55" stroke-width="1.2"/>
<line x1="373.94" y1="417.9" x2="373.94" y2="420.10" stroke="#8a8a8a" stroke-width="0.8"/>
<text transform="translate(376.04,441.30) rotate(-90)" font-size="8.0" text-anchor="middle">S4(July)</text>
<line x1="373.94" y1="356.40" x2="373.94" y2="361.60" stroke="#999" stroke-width="0.6" stroke-dasharray="1.5,1.2"/>
<line x1="373.94" y1="367.70" x2="373.94" y2="374.50" stroke="#999" stroke-width="0.6" stroke-dasharray="1.5,1.2"/>
<line x1="371.09" y1="356.40" x2="376.78" y2="356.40" stroke="#666" stroke-width="0.6"/>
<line x1="371.09" y1="374.50" x2="376.78" y2="374.50" stroke="#666" stroke-width="0.6"/>
<rect x="368.24" y="361.75" width="11.39" height="5.80" fill="#00ff00" stroke="#000" stroke-opacity="0.5" stroke-width="0.5"/>
<line x1="368.24" y1="364.65" x2="379.63" y2="364.65" stroke="#000" stroke-opacity="0.55" stroke-width="1.2"/>
<line x1="388.14" y1="417.9" x2="388.14" y2="420.10" stroke="#8a8a8a" stroke-width="0.8"/>
<text transform="translate(390.24,441.30) rotate(-90)" font-size="8.0" text-anchor="middle">ESP(July)</text>
<line x1="388.14" y1="366.10" x2="388.14" y2="373.00" stroke="#999" stroke-width="0.6" stroke-dasharray="1.5,1.2"/>
<line x1="388.14" y1="382.70" x2="388.14" y2="388.60" stroke="#999" stroke-width="0.6" stroke-dasharray="1.5,1.2"/>
<line x1="385.30" y1="366.10" x2="390.99" y2="366.10" stroke="#666" stroke-width="0.6"/>
<line x1="385.30" y1="388.60" x2="390.99" y2="388.60" stroke="#666" stroke-width="0.6"/>
<rect x="382.45" y="373.15" width="11.39" height="9.40" fill="#0000ff" stroke="#000" stroke-opacity="0.5" stroke-width="0.5"/>
<line x1="382.45" y1="377.85" x2="393.84" y2="377.85" stroke="#000" stroke-opacity="0.55" stroke-width="1.2"/>
</svg>
</body></html>
